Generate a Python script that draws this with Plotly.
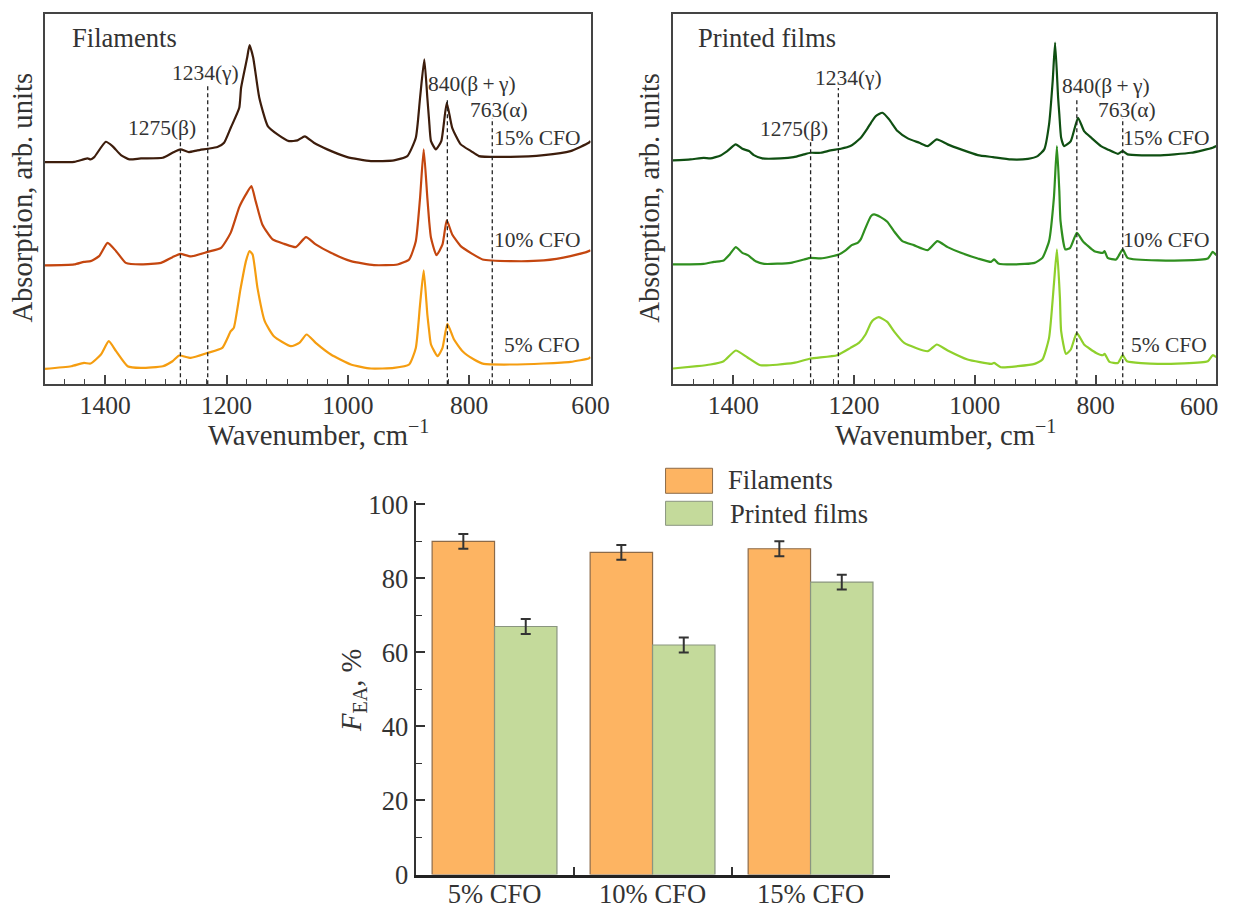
import plotly.graph_objects as go

W, H = 1240, 918

# ---------------- spectra data (wavenumber, absorption arb. units) ----------------
fil15_wn = [1500, 1451, 1436, 1429, 1424, 1418, 1399, 1388, 1374, 1360, 1341, 1305, 1289, 1276, 1262, 1248,
            1231, 1215, 1204, 1193, 1179, 1176, 1166, 1162, 1156, 1146, 1132, 1116, 1097, 1083, 1071, 1056,
            1034, 1001, 962, 924, 902, 888, 881, 874, 869, 866, 863, 855, 846, 837, 828, 814, 797, 784, 732,
            677, 633, 603, 600]
fil15_ab = [222, 222.3, 224.7, 225.7, 224.7, 227, 242.3, 238, 229, 224.7, 225.7, 226.3, 231.3, 234.7, 232, 233.7,
            235.3, 237, 241.3, 256.3, 276.3, 296.3, 326.3, 339, 326.3, 286.3, 258, 249.7, 243, 243.7, 247.7, 241.3,
            234.7, 227, 223, 223.7, 228, 246.3, 286.3, 324.7, 286.3, 263, 243, 234.7, 243, 281.3, 256.3, 239.7,
            233, 228, 227.3, 229, 233, 241.3, 243]

fil10_wn = [1500, 1451, 1435, 1424, 1410, 1396, 1382, 1366, 1341, 1308, 1289, 1276, 1259, 1231, 1209, 1193,
            1179, 1168, 1159, 1152, 1141, 1124, 1105, 1086, 1069, 1053, 1028, 995, 957, 918, 899, 888, 881,
            875, 869, 866, 863, 854, 844, 837, 828, 814, 795, 778, 732, 677, 633, 603, 600]
fil10_ab = [118.7, 119.7, 122.3, 123, 128, 141.3, 133, 121.3, 119.7, 121.3, 127, 130.3, 127.7, 132.3, 136.3,
            151.5, 177, 189.7, 198, 183, 159.7, 144.7, 140.3, 137, 147, 139.7, 131.3, 123, 119, 119.7, 124.7,
            143, 186.3, 234.7, 186.3, 163, 146.3, 129, 139.7, 163.7, 149.7, 138, 130.3, 124.7, 123, 123.7, 128,
            133, 134]

fil5_wn = [1500, 1456, 1435, 1424, 1407, 1394, 1382, 1363, 1341, 1305, 1289, 1278, 1259, 1231, 1207, 1193,
           1188, 1177, 1168, 1162, 1157, 1149, 1137, 1122, 1094, 1080, 1068, 1053, 1028, 995, 962, 924, 899,
           888, 881, 875, 869, 866, 863, 852, 844, 836, 825, 811, 792, 776, 732, 677, 633, 603, 600]
fil5_ab = [15.3, 18, 21.3, 20.7, 29.7, 43, 33, 18, 16.3, 18, 23, 28.7, 26.3, 31.3, 36.3, 53, 56.3, 95, 123,
           133, 129.7, 96.3, 63, 48, 38, 41.3, 49.7, 41.3, 29.7, 19.7, 15.7, 16.3, 19.7, 36.3, 79.7, 113.7,
           69.7, 53, 39.7, 28, 36.3, 60.3, 44.7, 33, 24.7, 20.3, 19.7, 20.7, 22.3, 25.7, 27]

pf15_wn = [1500, 1471, 1449, 1438, 1421, 1410, 1396, 1385, 1374, 1366, 1352, 1322, 1300, 1283, 1272, 1255,
           1239, 1222, 1206, 1190, 1178, 1172, 1164, 1153, 1142, 1128, 1111, 1092, 1078, 1063, 1045, 1023,
           995, 970, 940, 912, 896, 885, 877, 871, 867, 862, 860, 857, 852, 841, 829, 819, 807, 791, 780,
           763, 755, 747, 697, 642, 606, 600]
pf15_ab = [223.7, 224.7, 226.3, 225.7, 228.7, 233, 239.7, 235.3, 233, 229, 225.7, 225.7, 227, 229.7, 231.3,
           231.3, 233.7, 235.3, 238, 245.5, 255.5, 261.3, 268, 271.3, 264.7, 253, 245.7, 241.3, 238, 244.7,
           239.7, 234.7, 229, 227, 224.7, 225.3, 228, 234.7, 259.7, 303, 341.3, 286.3, 269.7, 246.3, 238, 243,
           266.3, 253, 246.3, 238, 234.7, 230.3, 233, 229.7, 228.7, 231.3, 236.3, 238]

pf10_wn = [1500, 1449, 1432, 1416, 1406, 1396, 1385, 1376, 1363, 1349, 1305, 1283, 1272, 1255, 1225, 1214,
           1204, 1194, 1189, 1181, 1172, 1167, 1156, 1145, 1134, 1120, 1101, 1078, 1062, 1045, 1023, 995, 973,
           968, 961, 935, 901, 888, 877, 869, 864, 860, 858, 850, 842, 831, 821, 802, 788, 785, 780, 766,
           755, 747, 697, 614, 606, 600]
pf10_ab = [119.7, 120.3, 122.3, 123.7, 129.7, 137, 131.3, 129, 123, 120.3, 121.3, 124.7, 126.3, 125.7, 129.7,
           133.7, 139, 141.3, 144.7, 156.3, 168, 169.7, 167, 162.3, 153, 143, 139, 134, 143, 137, 131.3, 125.7,
           122.3, 124.7, 120.7, 119.7, 121.3, 126.3, 143, 186.3, 238, 193, 163, 134.7, 136.3, 151.3, 143, 133,
           131.3, 133, 126.3, 124.7, 134.7, 126.3, 123.7, 125.7, 132.3, 129]

pf5_wn = [1500, 1460, 1438, 1416, 1396, 1377, 1355, 1300, 1272, 1228, 1206, 1192, 1181, 1172, 1167, 1159,
          1145, 1134, 1117, 1078, 1063, 1045, 1012, 973, 968, 957, 929, 901, 888, 877, 869, 864, 859, 857,
          849, 841, 831, 819, 799, 788, 785, 777, 763, 755, 748, 697, 614, 606, 600]
pf5_ab = [15.7, 18, 19.7, 23, 33.7, 27, 19, 21.3, 25.7, 29, 36.3, 41.3, 49.7, 61.3, 64.7, 67, 62.3, 53, 41.3,
          33, 39.7, 33.7, 24.7, 20.3, 21.3, 17, 18, 20.3, 24.7, 46.3, 99.7, 134.7, 86.3, 53, 30.3, 34.7, 51.3,
          39.7, 31.3, 29, 30.3, 22.3, 21.3, 29, 23, 20.3, 23, 29, 27]

# dashed marker lines (wavenumber positions as drawn, and heights of their tops)
peak_names = ["1275(β)", "1234(γ)", "840(β\u2009+\u2009γ)", "763(α)"]
fil_line_pos = [1276, 1231, 836, 762]
fil_line_top = [243, 298, 285, 266]
pf_line_pos = [1272, 1226, 831, 755]
pf_line_top = [245, 296, 286, 266]

wn_ticks = [1400, 1200, 1000, 800, 600]
wn_ticktext = ["1400", "1200", "1000", "800", "600"]

# ---------------- bar data ----------------
bar_categories = ["5% CFO", "10% CFO", "15% CFO"]
filaments_fea = [90, 87, 88]
filaments_err = [2, 2, 2]
printed_fea = [67, 62, 79]
printed_err = [2, 2, 2]

FONT = "Liberation Serif, Times New Roman, serif"
TXT = "#333333"

# the photographed page is slightly reduced and shifted; layout positions below are
# given in target-picture pixels and converted to page pixels with these factors
SX, OX = 0.9846, -0.5
SY, OY = 0.970, 11.0
FS = 1.023  # font enlargement to offset the reduction


def fx(x):
    return (x - OX) / SX


def fy(y):
    return (y - OY) / SY


def px(x):
    return fx(x) / W


def py(y):
    return 1 - fy(y) / H


def fs(s):
    return s * FS


fig = go.Figure()

left_cols = ["#3d1d0c", "#c4460f", "#f59d10"]
right_cols = ["#0f4f12", "#2f8f1f", "#8fd02c"]

for wn, ab, c in [(fil15_wn, fil15_ab, left_cols[0]), (fil10_wn, fil10_ab, left_cols[1]),
                  (fil5_wn, fil5_ab, left_cols[2])]:
    fig.add_trace(go.Scatter(x=wn, y=ab, mode="lines", line=dict(color=c, width=2.2, shape="spline", smoothing=0.5),
                             xaxis="x", yaxis="y", showlegend=False, hoverinfo="skip"))
for wn, ab, c in [(pf15_wn, pf15_ab, right_cols[0]), (pf10_wn, pf10_ab, right_cols[1]),
                  (pf5_wn, pf5_ab, right_cols[2])]:
    fig.add_trace(go.Scatter(x=wn, y=ab, mode="lines", line=dict(color=c, width=2.2, shape="spline", smoothing=0.5),
                             xaxis="x2", yaxis="y2", showlegend=False, hoverinfo="skip"))

for pos, top in zip(fil_line_pos, fil_line_top):
    fig.add_trace(go.Scatter(x=[pos, pos], y=[0, top], mode="lines",
                             line=dict(color="#222222", width=1.3, dash="4px,3px"),
                             xaxis="x", yaxis="y", showlegend=False, hoverinfo="skip"))
for pos, top in zip(pf_line_pos, pf_line_top):
    fig.add_trace(go.Scatter(x=[pos, pos], y=[0, top], mode="lines",
                             line=dict(color="#222222", width=1.3, dash="4px,3px"),
                             xaxis="x2", yaxis="y2", showlegend=False, hoverinfo="skip"))

ORANGE = "#fdb462"
GREEN = "#c4da9b"
fig.add_trace(go.Bar(x=bar_categories, y=filaments_fea, name="Filaments",
                     marker=dict(color=ORANGE, line=dict(color="#8c6a48", width=1.2)),
                     error_y=dict(type="data", array=filaments_err, color="#333333", thickness=2, width=5),
                     xaxis="x3", yaxis="y3", showlegend=False))
fig.add_trace(go.Bar(x=bar_categories, y=printed_fea, name="Printed films",
                     marker=dict(color=GREEN, line=dict(color="#8a9580", width=1.2)),
                     error_y=dict(type="data", array=printed_err, color="#333333", thickness=2, width=5),
                     xaxis="x3", yaxis="y3", showlegend=False))

spec_x = dict(range=[1500, 600], tickmode="array", tickvals=wn_ticks, ticktext=wn_ticktext,
              ticks="inside", ticklen=9, tickwidth=1.5, ticklabelstandoff=-3,
              tickcolor="#444", showline=True, mirror=True, linecolor="#444", linewidth=2,
              showgrid=False, zeroline=False, tickfont=dict(family=FONT, size=fs(25), color=TXT),
              minor=dict(tick0=0, dtick=200 / 6, ticks="inside", ticklen=5, tickwidth=1.2, tickcolor="#444"))
spec_y = dict(range=[0, 370], showticklabels=False, ticks="", showline=True, mirror=True,
              linecolor="#444", linewidth=2, showgrid=False, zeroline=False,
              domain=[py(383), py(13)])

# right panel: its last tick label sits at the page edge, so it is written as a note just inside
right_ticktext = wn_ticktext[:-1] + [""]

# bar chart: value axis from 0 (picture y=873) to 100 (picture y=503)
bar_zero, bar_hundred = 873, 503
bar_top = bar_zero - (bar_zero - bar_hundred) * 1.008

fig.update_layout(
    width=W, height=H, margin=dict(l=0, r=0, t=0, b=0),
    paper_bgcolor="white", plot_bgcolor="white",
    barmode="group", bargap=0.21, bargroupgap=0,
    xaxis=dict(spec_x, domain=[px(44), px(590)]),
    yaxis=dict(spec_y, anchor="x"),
    xaxis2=dict(spec_x, domain=[px(672.4), px(1215.7)], anchor="y2", ticktext=right_ticktext),
    yaxis2=dict(spec_y, anchor="x2"),
    xaxis3=dict(domain=[px(415), px(889)], anchor="y3", range=[-0.5, 2.5], showline=True,
                linecolor="#222", linewidth=3, ticks="inside", tickson="boundaries", ticklen=8,
                tickwidth=1.5, tickcolor="#333", showgrid=False, zeroline=False, ticklabelstandoff=-6,
                tickfont=dict(family=FONT, size=fs(26), color=TXT)),
    yaxis3=dict(domain=[py(bar_zero), py(bar_top)], anchor="x3", range=[0, 100.8], dtick=20, ticks="inside",
                ticklen=9, tickwidth=1.5, tickcolor="#333", showline=True, linecolor="#333",
                linewidth=2, showgrid=False, zeroline=False,
                tickfont=dict(family=FONT, size=fs(26), color=TXT),
                minor=dict(dtick=10, ticks="inside", ticklen=6, tickwidth=1.2, tickcolor="#333")),
)

ann = []


def add_text(text, x, y, size=21, xanchor="center", angle=0):
    ann.append(dict(text=text, x=px(x), y=py(y), xref="paper", yref="paper", showarrow=False,
                    xanchor=xanchor, yanchor="middle", textangle=angle,
                    font=dict(family=FONT, size=fs(size), color=TXT)))


# left panel texts
add_text("Filaments", 69, 37, 26, "left")
add_text(peak_names[1], 205, 72)
add_text(peak_names[0], 161.5, 127)
add_text(peak_names[2], 471, 83)
add_text(peak_names[3], 498, 109)
add_text("15% CFO", 581, 137, 21, "right")
add_text("10% CFO", 581, 239, 21, "right")
add_text("5% CFO", 581, 344, 21, "right")
add_text("Absorption, arb. units", 22, 197, 28, "center", -90)
add_text("Wavenumber, cm<sup>−1</sup>", 318, 432, 28)

# right panel texts
add_text("Printed films", 695, 37, 26, "left")
add_text(peak_names[1], 847.5, 77)
add_text(peak_names[0], 793.5, 128)
add_text(peak_names[2], 1105.5, 85)
add_text(peak_names[3], 1126, 109)
add_text("15% CFO", 1210, 137, 21, "right")
add_text("10% CFO", 1210, 239, 21, "right")
add_text("5% CFO", 1208, 344, 21, "right")
add_text("Absorption, arb. units", 649, 197, 28, "center", -90)
add_text("Wavenumber, cm<sup>−1</sup>", 945, 432, 28)
add_text(wn_ticktext[-1], 1219, 405, 25, "right")

# bar chart texts
add_text("<i>F</i><sub>EA</sub>, %", 353, 689, 28, "center", -90)
add_text("Filaments", 725, 479, 26, "left")
add_text("Printed films", 727, 513, 26, "left")

fig.update_layout(annotations=ann)

# legend swatches
fig.add_shape(type="rect", xref="paper", yref="paper", x0=px(665), x1=px(712), y0=py(492), y1=py(467),
              fillcolor=ORANGE, line=dict(color="#8c6a48", width=1))
fig.add_shape(type="rect", xref="paper", yref="paper", x0=px(665), x1=px(712), y0=py(524), y1=py(500),
              fillcolor=GREEN, line=dict(color="#8a9580", width=1))

pin_script = (
    "document.documentElement.style.margin='0';document.body.style.margin='0';"
    "document.documentElement.style.overflow='hidden';document.body.style.overflow='hidden';"
    "var d=document.getElementById('{plot_id}');d.style.position='absolute';d.style.left='0px';d.style.top='0px';"
)
fig.write_html("out.html", post_script=pin_script, config={"displayModeBar": False})
